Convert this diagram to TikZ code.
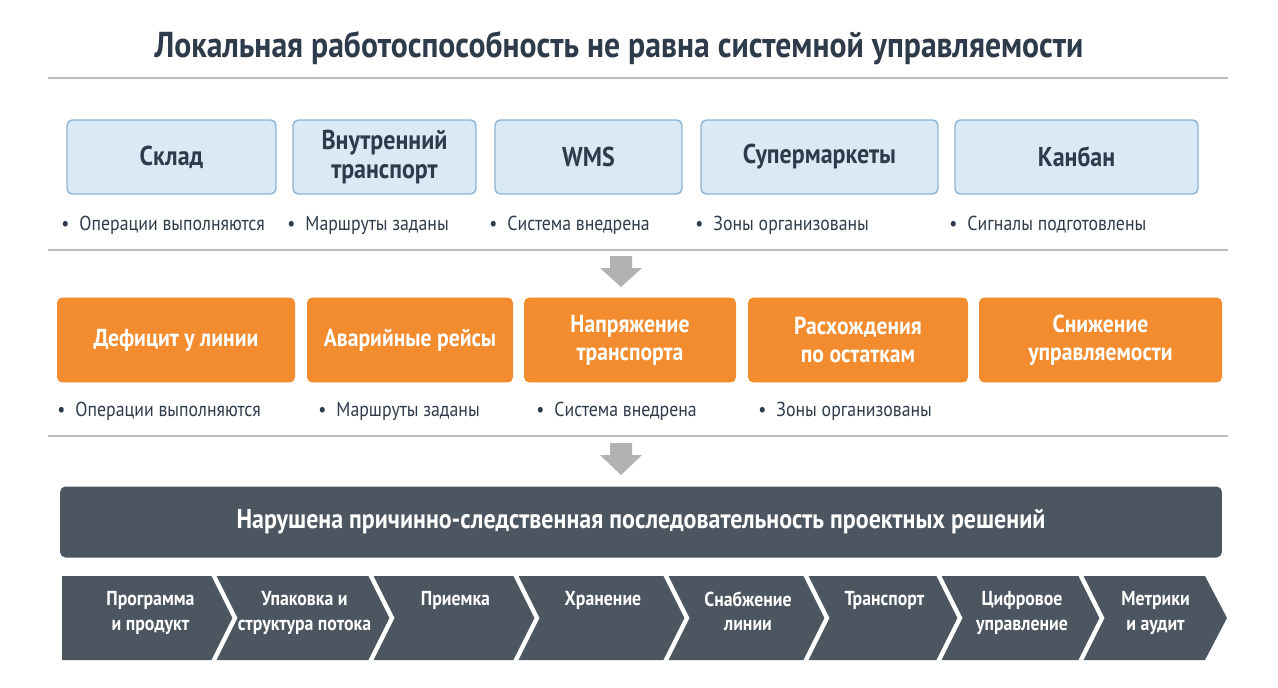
\documentclass[tikz,border=0pt]{standalone}
\usepackage{fontspec}
\setmainfont{PT Sans}[FakeStretch=0.88]
\usetikzlibrary{positioning,arrows.meta}
\definecolor{boxblue}{HTML}{D9EAF6}
\definecolor{edgeblue}{HTML}{8DB4D2}
\definecolor{boxorange}{HTML}{F28C2F}
\definecolor{darkbar}{HTML}{4B5661}
\definecolor{txtdark}{HTML}{2E3B4A}
\definecolor{rulegray}{HTML}{B8BEC6}
\begin{document}
\begin{tikzpicture}
  [
    x=0.02cm, y=-0.02cm,
    Blue/.style={draw=edgeblue, fill=boxblue, rounded corners=3pt, line width=0.8pt, text=txtdark, font=\bfseries\fontsize{15.5}{16.5}\selectfont, align=center, inner sep=0pt},
    Orange/.style={fill=boxorange, rounded corners=3pt, text=white, font=\bfseries\fontsize{14}{16}\selectfont, align=center, inner sep=0pt},
    Bullet/.style={anchor=west, text=txtdark, font=\fontsize{11.5}{13}\selectfont, inner sep=0pt},
    Step/.style={text=white, font=\bfseries\fontsize{11.5}{14}\selectfont, align=center, anchor=north, inner sep=0pt},
    Rule/.style={draw=rulegray, line width=0.8pt},
    Down/.style={fill=gray!60, draw=none}
  ]
  \useasboundingbox (0,0) rectangle (1278,687);
  % Title
  \node[text=txtdark, font=\bfseries\fontsize{20.5}{24}\selectfont] (title) at (619,48) {Локальная работоспособность не равна системной управляемости};
  \draw[Rule] (48,78) -- (1228,78);
  % Top row
  \foreach \l/\r/\t/\b [count=\i] in {67/276/Склад/Операции выполняются, 293/476/{Внутренний\\транспорт}/Маршруты заданы, 495/682/WMS/Система внедрена, 701/938/Супермаркеты/Зоны организованы, 955/1198/Канбан/Сигналы подготовлены}
  {
    \node[Blue, minimum width=(\r-\l)*0.02cm, minimum height=1.48cm] (top\i) at ({(\l+\r)/2},157) {\t};
    \node[Bullet] (topnote\i) at (\l-6,225) {•\enspace\b};
  }
  \draw[Rule] (48,250) -- (1228,250);
  \fill[Down] (610,256) -- (632,256) -- (632,268) -- (642,268) -- (621,287) -- (600,268) -- (610,268) -- cycle;
  % Middle row
  \foreach \l/\r/\t [count=\i] in {57/295/Дефицит у линии, 307/513/Аварийные рейсы, 524/736/{Напряжение\\транспорта}, 748/968/{Расхождения\\по остаткам}, 979/1222/{Снижение\\управляемости}}
  {
    \node[Orange, minimum width=(\r-\l)*0.02cm, minimum height=1.7cm] (mid\i) at ({(\l+\r)/2},340) {\t};
  }
  \foreach \l/\b [count=\i] in {57/Операции выполняются, 318/Маршруты заданы, 536/Система внедрена, 758/Зоны организованы}
  {
    \node[Bullet] (midnote\i) at (\l,411) {•\enspace\b};
  }
  \draw[Rule] (48,436) -- (1228,436);
  \fill[Down] (610,443) -- (632,443) -- (632,455) -- (642,455) -- (621,475) -- (600,455) -- (610,455) -- cycle;
  % Bar
  \node[fill=darkbar, rounded corners=3pt, minimum width=23.24cm, minimum height=1.42cm, text=white, font=\bfseries\fontsize{15.5}{18}\selectfont] (bar) at (641,522) {Нарушена причинно-следственная последовательность проектных решений};
  % Chevrons
  \foreach \l/\r/\t [count=\i] in {62/213/{Программа\\и продукт}, 213/370/{Упаковка и\\структура потока}, 370/515/Приемка, 515/665/Хранение, 665/805/{Снабжение\\линии}, 805/938/Транспорт, 938/1080/{Цифровое\\управление}, 1080/1205/{Метрики\\и аудит}}
  {
    \ifnum\i=1
      \fill[darkbar] (\l,576) -- (\r,576) -- (\r+22,618) -- (\r,660) -- (\l,660) -- cycle;
    \else
      \fill[darkbar] (\l,576) -- (\r,576) -- (\r+22,618) -- (\r,660) -- (\l,660) -- (\l+22,618) -- cycle;
      \draw[white, line width=2.5pt] (\l,574) -- (\l+22,618) -- (\l,662);
    \fi
    \node[Step] (step\i) at ({(\l+\r)/2+13},591) {\t};
  }
\end{tikzpicture}
\end{document}
